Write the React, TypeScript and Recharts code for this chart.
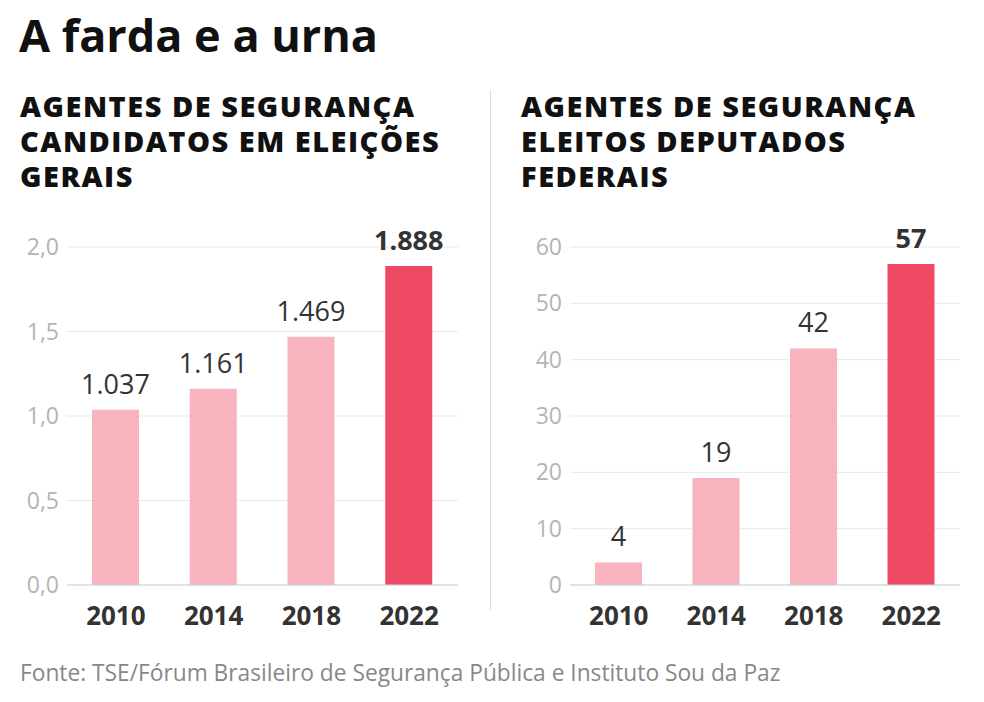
import { FC } from 'react'
import { Bar, BarChart, CartesianGrid, Cell, LabelList, XAxis, YAxis } from 'recharts'

const years = ['2010', '2014', '2018', '2022']
const candidatos = [1037, 1161, 1469, 1888]
const eleitos = [4, 19, 42, 57]
const candTicks = [0, 500, 1000, 1500, 2000]
const eleitosTicks = [0, 10, 20, 30, 40, 50, 60]

const LIGHT = '#f7b4be'
const DARK = '#ee4a64'

const candData = years.map((year, i) => ({ year, value: candidatos[i] }))
const eleitosData = years.map((year, i) => ({ year, value: eleitos[i] }))

// 1037 -> "1.037"
const fmtThousand = (v: number) => {
    const s = String(v)
    return s.length > 3 ? s.slice(0, -3) + '.' + s.slice(-3) : s
}
// 1500 -> "1,5"
const fmtTick = (v: number) => (v / 1000).toFixed(1).replace('.', ',')

const makeLabel = (fmt: (v: number) => string) => (props: any) => {
    const { x, y, width, value, index } = props
    return (
        <text
            x={Number(x) + Number(width) / 2}
            y={Number(y) - 16}
            textAnchor="middle"
            fontSize={27}
            fontWeight={index === 3 ? 700 : 400}
            fill="#333333"
        >
            {fmt(Number(value))}
        </text>
    )
}

const Subtitle: FC<{ left: number; lines: string[] }> = ({ left, lines }) => (
    <div
        style={{
            position: 'absolute',
            left,
            top: 88,
            fontSize: 29,
            lineHeight: '35px',
            letterSpacing: 1.5,
            fontWeight: 800,
            color: '#111111',
        }}
    >
        {lines.map((l) => (
            <div key={l}>{l}</div>
        ))}
    </div>
)

const App: FC = () => {
    return (
        <div
            style={{
                position: 'absolute',
                left: 0,
                top: 0,
                width: 984,
                height: 702,
                background: '#ffffff',
                fontFamily: '"Open Sans", sans-serif',
                overflow: 'hidden',
            }}
        >
            <div
                style={{
                    position: 'absolute',
                    left: 19,
                    top: 12,
                    fontSize: 45,
                    lineHeight: '45px',
                    fontWeight: 700,
                    color: '#111111',
                }}
            >
                A farda e a urna
            </div>

            <Subtitle left={20} lines={['AGENTES DE SEGURANÇA', 'CANDIDATOS EM ELEIÇÕES', 'GERAIS']} />
            <Subtitle left={521} lines={['AGENTES DE SEGURANÇA', 'ELEITOS DEPUTADOS', 'FEDERAIS']} />

            <div
                style={{
                    position: 'absolute',
                    left: 490,
                    top: 90,
                    width: 1,
                    height: 520,
                    background: '#dcdcdc',
                }}
            />

            <div style={{ position: 'absolute', left: 0, top: 200 }}>
                <BarChart
                    width={480}
                    height={440}
                    data={candData}
                    margin={{ top: 47, right: 22, bottom: 0, left: 0 }}
                    barSize={47}
                >
                    <CartesianGrid vertical={false} stroke="#e8e8e8" />
                    <XAxis
                        dataKey="year"
                        height={55}
                        tickLine={false}
                        tickSize={0}
                        tickMargin={22}
                        stroke="#c9d3d3"
                        tick={{ fontSize: 26, fontWeight: 700, fill: '#333333' }}
                    />
                    <YAxis
                        width={67}
                        domain={[0, 2000]}
                        ticks={candTicks}
                        tickFormatter={fmtTick}
                        axisLine={false}
                        tickLine={false}
                        tickSize={0}
                        tickMargin={8}
                        tick={{ fontSize: 23, fill: '#b4b4b4' }}
                    />
                    <Bar dataKey="value" isAnimationActive={false}>
                        {candData.map((d, i) => (
                            <Cell key={d.year} fill={i === 3 ? DARK : LIGHT} />
                        ))}
                        <LabelList dataKey="value" content={makeLabel(fmtThousand)} />
                    </Bar>
                </BarChart>
            </div>

            <div style={{ position: 'absolute', left: 490, top: 200 }}>
                <BarChart
                    width={494}
                    height={440}
                    data={eleitosData}
                    margin={{ top: 47, right: 24, bottom: 0, left: 0 }}
                    barSize={47}
                >
                    <CartesianGrid vertical={false} stroke="#e8e8e8" />
                    <XAxis
                        dataKey="year"
                        height={55}
                        tickLine={false}
                        tickSize={0}
                        tickMargin={22}
                        stroke="#c9d3d3"
                        tick={{ fontSize: 26, fontWeight: 700, fill: '#333333' }}
                    />
                    <YAxis
                        width={80}
                        domain={[0, 60]}
                        ticks={eleitosTicks}
                        axisLine={false}
                        tickLine={false}
                        tickSize={0}
                        tickMargin={8}
                        tick={{ fontSize: 23, fill: '#b4b4b4' }}
                    />
                    <Bar dataKey="value" isAnimationActive={false}>
                        {eleitosData.map((d, i) => (
                            <Cell key={d.year} fill={i === 3 ? DARK : LIGHT} />
                        ))}
                        <LabelList dataKey="value" content={makeLabel((v) => String(v))} />
                    </Bar>
                </BarChart>
            </div>

            <div
                style={{
                    position: 'absolute',
                    left: 20,
                    top: 657,
                    fontSize: 24,
                    lineHeight: '30px',
                    color: '#888888',
                    whiteSpace: 'nowrap',
                    transform: 'scaleX(0.947)',
                    transformOrigin: 'left top',
                }}
            >
                Fonte: TSE/Fórum Brasileiro de Segurança Pública e Instituto Sou da Paz
            </div>
        </div>
    )
}

export default App
